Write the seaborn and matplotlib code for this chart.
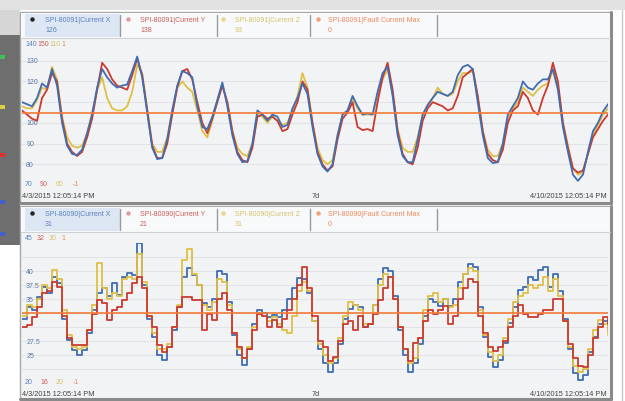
import numpy as np
import pandas as pd
import matplotlib
matplotlib.use("Agg")
import matplotlib.pyplot as plt
import seaborn as sns
from matplotlib.patches import Rectangle

# ---- data ----
start = "2015-04-03 12:05:14"
end = "2015-04-10 12:05:14"

# SPI-80091 (top), values in the blue axis units (70..140)
top_x = [110, 109, 108, 112, 119, 117, 126, 118, 100, 89, 85, 84.5, 87, 95, 104, 117, 126, 122, 119, 117,
         118, 118.5, 125, 132, 122, 105, 88, 82.5, 83, 92, 106, 118, 125, 124, 122, 108, 98, 97, 103, 111,
         119.5, 108, 94, 85, 81, 81.5, 90, 106, 104, 101, 104, 103, 98, 99, 107, 112, 119, 114, 98, 85,
         79, 76.5, 80, 94, 104, 106, 113, 108, 104, 104.6, 104, 115, 124, 127, 113, 94, 84, 81, 81, 92,
         104, 108.5, 112, 115, 114, 113, 115, 123, 127, 128, 126, 110, 94, 83, 80.6, 81, 90, 104, 108, 112,
         120, 117, 116, 119, 121, 121, 126, 116, 98, 86, 75, 72, 75, 86, 96, 100, 105.5, 109]
top_y = [106, 104, 102, 101, 112, 116, 124, 120, 102, 90, 86, 84, 86, 93, 102, 116, 129, 126, 121, 118,
         117, 116, 123, 131, 123, 106, 89, 83, 83, 90, 104, 117, 125, 126, 121, 110, 100, 95, 102, 110,
         118, 110, 96, 86, 82, 81, 88, 103, 104, 102, 103, 101, 96, 97, 104, 110, 120, 116, 100, 86,
         80, 77, 79, 92, 102, 105, 110, 98, 96.5, 97, 96, 110, 122, 129, 116, 96, 85, 81, 80, 88,
         101, 107, 110, 109, 108, 106, 107, 113, 122, 124, 126, 113, 96, 85, 82, 81, 87, 100, 106, 108,
         115, 112, 106, 104, 112, 118, 129, 120, 100, 88, 78, 76, 77, 85, 93, 97, 101, 104]
top_z = [108, 107, 107, 111, 117, 116, 127, 121, 103, 93, 89, 88, 89, 95, 105, 116, 122, 112, 107, 106,
         106, 108, 115, 128, 124, 107, 90, 86, 86, 93, 106, 117, 120, 117, 115, 106, 96, 93, 101, 111,
         118, 110, 96, 88, 85, 84, 90, 104, 103, 100, 103, 101, 99, 100, 106, 113, 124, 117, 100, 88,
         82, 80, 82, 94, 104, 106, 112, 107, 104, 104, 104, 113, 121, 126, 114, 97, 88, 86, 86, 93,
         104, 109, 112, 117, 114, 113, 114, 120, 124, 124, 125, 112, 96, 87, 84, 84, 90, 103, 107, 110,
         117, 115, 113, 116, 118, 119, 125, 117, 100, 89, 78, 75, 76, 85, 94, 99, 104, 107]

# SPI-80090 (bottom), values in the blue axis units (20..45)
bot_x = [31.5, 33.6, 33.0, 35.4, 37.2, 36.0, 39.0, 37.8, 31.5, 27.7, 25.9, 25.0, 25.9, 29.0, 33.0, 36.0, 37.0, 35.5, 37.8, 35.8,
         39.0, 39.6, 39.2, 45.0, 37.5, 31.5, 28.3, 25.0, 24.1, 26.5, 29.5, 33.6, 39.0, 40.5, 39.2, 37.5, 34.2, 33.5, 35.0, 40.0,
         39.5, 34.5, 28.5, 25.0, 23.2, 26.0, 30.5, 33.0, 32.5, 31.8, 32.2, 31.8, 33.0, 35.0, 37.0, 38.8, 38.5, 36.0, 31.0, 26.0,
         23.5, 22.0, 23.5, 27.0, 31.5, 33.2, 34.0, 33.5, 30.0, 30.5, 34.0, 38.5, 40.5, 40.0, 35.5, 29.5, 25.0, 22.0, 23.5, 27.0,
         32.0, 35.0, 34.5, 33.8, 35.0, 33.8, 35.0, 38.0, 39.4, 41.2, 40.8, 33.6, 28.3, 24.7, 22.9, 24.1, 27.1, 30.7, 33.6, 36.6,
         37.2, 39.0, 38.4, 40.2, 40.8, 37.2, 39.5, 36.5, 31.5, 26.0, 21.8, 20.5, 21.5, 25.5, 28.3, 30.5, 31.0, 29.5]
bot_y = [30.0, 30.4, 31.8, 33.6, 36.0, 36.5, 38.0, 37.2, 32.0, 28.0, 26.8, 26.8, 26.8, 29.5, 32.4, 34.8, 34.2, 31.3, 33.0, 33.6,
         34.8, 36.0, 37.8, 39.0, 37.0, 32.0, 30.0, 26.8, 25.5, 26.5, 30.0, 33.6, 35.4, 35.4, 34.8, 34.8, 29.5, 32.4, 31.3, 35.0,
         36.0, 33.0, 29.0, 26.5, 24.5, 26.0, 29.5, 32.4, 32.0, 30.0, 31.3, 30.0, 31.5, 33.0, 35.0, 37.5, 40.8, 37.0, 32.0, 27.5,
         26.5, 24.0, 24.7, 27.5, 30.5, 31.0, 29.5, 32.0, 30.0, 30.5, 32.4, 34.8, 37.0, 39.0, 35.0, 30.0, 26.0, 24.0, 27.1, 28.0,
         31.0, 33.0, 32.4, 33.0, 33.8, 30.5, 32.0, 35.0, 37.0, 38.5, 38.0, 32.0, 29.0, 26.5, 25.7, 26.5, 27.5, 30.0, 32.0, 34.0,
         32.4, 31.8, 31.8, 32.4, 33.0, 33.0, 35.0, 35.0, 31.0, 27.0, 24.5, 23.0, 22.9, 25.0, 28.0, 30.0, 31.8, 30.5]
bot_z = [32.0, 34.0, 33.5, 35.0, 37.5, 37.0, 40.2, 38.5, 33.0, 28.5, 26.5, 26.0, 26.5, 29.5, 34.0, 41.4, 37.0, 35.0, 36.0, 35.5,
         38.5, 39.0, 38.5, 43.0, 38.0, 32.0, 29.0, 26.0, 26.0, 27.0, 30.0, 34.0, 42.0, 44.0, 39.5, 37.5, 34.0, 33.0, 34.5, 38.5,
         38.0, 34.0, 29.0, 26.0, 24.5, 26.5, 30.0, 32.5, 32.0, 31.0, 31.8, 30.5, 29.5, 29.0, 32.0, 36.5, 38.0, 36.5, 31.0, 27.0,
         25.0, 23.5, 24.5, 28.0, 32.0, 34.5, 34.0, 33.0, 30.5, 30.5, 34.0, 37.5, 39.5, 39.0, 35.0, 30.0, 26.0, 23.5, 24.5, 28.0,
         33.0, 35.5, 36.0, 34.5, 35.0, 33.5, 34.0, 37.0, 39.5, 40.5, 40.0, 33.0, 28.5, 25.5, 24.0, 25.0, 28.0, 31.5, 34.5, 35.5,
         36.0, 37.5, 37.0, 37.5, 39.0, 36.5, 38.5, 35.5, 31.0, 26.5, 23.0, 22.0, 22.5, 26.0, 29.5, 31.3, 30.5, 28.5]
fault = 0  # on its own -1..1 axis

top_names = ["SPI-80091|Current X", "SPI-80091|Current Y", "SPI-80091|Current Z", "SPI-80091|Fault Current Max"]
bot_names = ["SPI-80090|Current X", "SPI-80090|Current Y", "SPI-80090|Current Z", "SPI-80090|Fault Current Max"]
top_current = ["126", "138", "93", "0"]
bot_current = ["31", "21", "31", "0"]
top_head, top_foot = ["140", "150", "110", "1"], ["70", "90", "60", "-1"]
bot_head, bot_foot = ["45", "32", "30", "1"], ["20", "16", "20", "-1"]
top_ticks = [80, 90, 100, 110, 120, 130]
top_tick_labels = ["80", "90", "100", "", "120", "130"]
bot_ticks = [22.5, 25, 27.5, 30, 32.5, 35, 37.5, 40, 42.5]
bot_tick_labels = ["", "25", "27.5", "", "", "35", "37.5", "40", ""]

line_colors = ["#3f6cb3", "#cc3a2e", "#e0bf45", "#f47a38"]
text_colors = ["#5a80bf", "#cf5c55", "#d6c26a", "#f0875a"]

sns.set_style("white")
plt.rcParams["font.family"] = ["Liberation Sans", "DejaVu Sans"]

W, H = 625, 401
fig = plt.figure(figsize=(W / 100, H / 100), dpi=100)
bg = fig.add_axes([0, 0, 1, 1])
bg.set_xlim(0, W)
bg.set_ylim(H, 0)
bg.axis("off")

# screenshot surroundings
bg.add_patch(Rectangle((0, 0), W, 10, color="#e2e2e2", lw=0))
bg.add_patch(Rectangle((0, 10), 20, 25, color="#d6d6d6", lw=0))
bg.add_patch(Rectangle((0, 35), 20, 210, color="#6e6e6e", lw=0))
for yy, c in [(55, "#3fbf5a"), (105, "#d8d040"), (153, "#e03030"), (200, "#4060d0"), (232, "#4060d0")]:
    bg.add_patch(Rectangle((0, yy), 5, 4, color=c, lw=0))
bg.plot([622, 622], [10, 401], color="#c8c8c8", lw=1)


def fig_rect(x0, y0, x1, y1):
    return [x0 / W, 1 - y1 / H, (x1 - x0) / W, (y1 - y0) / H]


def draw_panel(top, bottom, plot_top, plot_bottom, names, current, head, foot,
               ticks, tick_labels, ylim, vals, steps, order):
    bg.add_patch(Rectangle((20, top), 591, bottom - top, facecolor="#f2f3f5", edgecolor="#a8a8a8", lw=1))
    bg.plot([20, 611], [bottom, bottom], color="#8a8a8a", lw=2.2)
    bg.plot([611, 611], [top, bottom], color="#8a8a8a", lw=2.2)
    bg.add_patch(Rectangle((21, top + 1), 589, 25, facecolor="#f8f9fa", lw=0))
    bg.add_patch(Rectangle((25, top + 2), 95, 23, facecolor="#dde7f3", lw=0))
    bg.plot([21, 610], [top + 26, top + 26], color="#cfd2d6", lw=0.8)
    for i, (xb, xt, xs) in enumerate([(32, 45, 120), (128, 140, 217), (223, 235, 310), (318, 328, 437)]):
        bg.plot(xb, top + 7, marker="o", ms=2.2, color=["#222222", "#e59a9a", "#e8d58a", "#f2a27a"][i])
        bg.text(xt, top + 8, names[i], fontsize=5, color=text_colors[i], va="center")
        bg.text(xt, top + 18, current[i], fontsize=5, color=text_colors[i], va="center")
        bg.plot([xs, xs], [top + 3, top + 24], color="#9a9a9a", lw=1)
    for lbl, xx, c in zip(head, [25, 37, 49, 61], text_colors):
        bg.text(xx, top + 32, lbl, fontsize=5, color=c, va="center")
    for lbl, xx, c in zip(foot, [25, 40, 56, 73], text_colors):
        bg.text(xx, plot_bottom, lbl, fontsize=5, color=c, va="center")
    bg.text(22, plot_bottom + 12, "4/3/2015 12:05:14 PM", fontsize=5.3, color="#444444", va="center")
    bg.text(312, plot_bottom + 12, "7d", fontsize=5.3, color="#444444", va="center")
    bg.text(607, plot_bottom + 12, "4/10/2015 12:05:14 PM", fontsize=5.3, color="#444444", va="center", ha="right")

    ax = fig.add_axes(fig_rect(22, plot_top, 608, plot_bottom))
    ax.set_facecolor("none")
    times = pd.date_range(start, end, periods=len(vals[0]))
    df = pd.DataFrame({"time": times, names[0]: vals[0], names[1]: vals[1], names[2]: vals[2]})
    df = df.melt("time", var_name="series", value_name="value")
    pal = dict(zip(names[:3], line_colors[:3]))
    sns.lineplot(data=df, x="time", y="value", hue="series", hue_order=[names[i] for i in order],
                 palette=pal, estimator=None, lw=1.3, legend=False, ax=ax,
                 drawstyle="steps-post" if steps else "default")
    ax.set_xlim(pd.Timestamp(start), pd.Timestamp(end))
    ax.set_ylim(*ylim)
    ax.set_yticks(ticks)
    ax.set_yticklabels(tick_labels)
    ax.tick_params(axis="y", length=0, pad=-3, labelsize=5, labelcolor="#5a7aa8")
    for t in ax.get_yticklabels():
        t.set_ha("left")
    ax.set_xticks([])
    ax.set_xlabel("")
    ax.set_ylabel("")
    ax.yaxis.grid(True, color="#e1e3e7", lw=0.8)
    for s in ax.spines.values():
        s.set_visible(False)

    ax2 = ax.twinx()
    sns.lineplot(x=[pd.Timestamp(start), pd.Timestamp(end)], y=[fault, fault],
                 color=line_colors[3], lw=1.2, ax=ax2)
    ax2.set_ylim(-1, 1)
    ax2.axis("off")


draw_panel(12, 203, 40, 185, top_names, top_current, top_head, top_foot,
           top_ticks, top_tick_labels, (70, 140), [top_x, top_y, top_z], False, [2, 1, 0])
draw_panel(206, 399, 243, 383, bot_names, bot_current, bot_head, bot_foot,
           bot_ticks, bot_tick_labels, (20, 45), [bot_x, bot_y, bot_z], True, [0, 2, 1])

fig.savefig("out.png", dpi=100)
